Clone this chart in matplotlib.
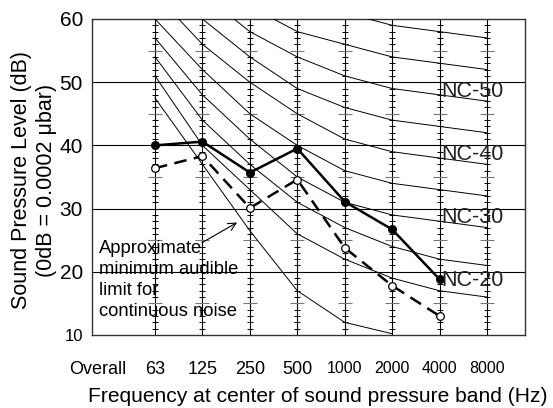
import matplotlib
matplotlib.use("Agg")
import matplotlib.pyplot as plt
import numpy as np

plt.rcParams["font.family"] = ["Liberation Sans", "DejaVu Sans"]

# ---------------- data ----------------
categories = ["Overall", "63", "125", "250", "500", "1000", "2000", "4000", "8000"]
bands = categories[1:]
solid_levels = [40.0, 40.6, 35.7, 39.5, 31.1, 26.7, 18.8]     # 63 .. 4000 Hz
dashed_levels = [36.4, 38.3, 30.1, 34.6, 23.8, 17.8, 13.0]    # 63 .. 4000 Hz
audible_limit = [47.5, 37.0, 26.5, 17.0, 12.0, 10.2]          # 63 .. 2000 Hz

nc_ratings = [20, 25, 30, 35, 40, 45, 50, 55, 60]
nc_curves = [
    [51, 40, 33, 26, 22, 19, 17, 16],
    [54, 44, 37, 31, 27, 24, 22, 21],
    [57, 48, 41, 35, 31, 29, 28, 27],
    [60, 52, 45, 40, 36, 34, 33, 32],
    [64, 56, 50, 45, 41, 39, 38, 37],
    [67, 60, 54, 49, 46, 44, 43, 42],
    [71, 64, 58, 54, 51, 49, 48, 47],
    [74, 67, 62, 58, 56, 54, 53, 52],
    [77, 71, 67, 63, 61, 59, 58, 57],
]
nc_labelled = [20, 30, 40, 50]
y_ticks = [10, 20, 30, 40, 50, 60]
grid_levels = [20, 30, 40, 50]

# ---------------- figure ----------------
fig = plt.figure(figsize=(5.53, 4.08), dpi=100)
ax = fig.add_axes([92 / 553, 1 - 335 / 408, 433 / 553, 316 / 408])
ax.set_xlim(-0.328, 8.80)
ax.set_ylim(10, 60)

xb = np.arange(1, len(bands) + 1)

for g in grid_levels:
    ax.axhline(g, color="black", lw=0.8, zorder=1)

ax.vlines(xb, 10, 60, color="black", lw=0.8, zorder=1)
minor_ticks = [v for v in range(11, 60) if v % 5 != 0]
major_ticks = [v for v in range(15, 60, 10)]
for x in xb:
    ax.plot([x] * len(minor_ticks), minor_ticks, ls="none", marker="_",
            ms=4.2, mew=0.7, color="black", zorder=2)
    ax.plot([x] * len(major_ticks), major_ticks, ls="none", marker="_",
            ms=9.5, mew=0.8, color="#777777", zorder=2)

for vals in nc_curves:
    ax.plot(xb, vals, color="black", lw=0.7, zorder=3)
ax.plot(xb[:len(audible_limit)], audible_limit, color="black", lw=0.7, zorder=3)

ax.plot(xb[:len(dashed_levels)], dashed_levels, color="black", lw=1.8,
        ls=(0, (5, 3)), marker="o", ms=5.5, mfc="white", mec="black", mew=0.9, zorder=5)
ax.plot(xb[:len(solid_levels)], solid_levels, color="black", lw=1.8,
        marker="o", ms=5.5, mfc="black", mec="black", zorder=6)

for lvl in nc_labelled:
    ax.text(7.04, lvl + 0.25, f"NC-{lvl}", ha="left", va="top", fontsize=15.5,
            color="#222222", zorder=7)

ax.text(-0.18, 25.1, "Approximate\nminimum audible\nlimit for\ncontinuous noise",
        ha="left", va="top", fontsize=13.2, linespacing=1.33, zorder=7)
ax.annotate("", xy=(2.73, 27.8), xytext=(1.99, 24.6),
            arrowprops=dict(arrowstyle="->", lw=0.8, color="black",
                            shrinkA=0, shrinkB=0, mutation_scale=14), zorder=7)

# axes / ticks
for s in ax.spines.values():
    s.set_color("#333333")
    s.set_linewidth(1.0)

ax.set_yticks(y_ticks)
ax.set_yticklabels([str(v) for v in y_ticks])
ax.tick_params(axis="y", length=0, pad=6.5, labelsize=15)
ax.get_yticklabels()[0].set_fontsize(12)

xpos = np.arange(len(categories), dtype=float)
xpos[0] = -0.2
ax.set_xticks(xpos)
ax.set_xticklabels(categories)
ax.tick_params(axis="x", length=0, pad=19, labelsize=13)
for lab in ax.get_xticklabels():
    if len(lab.get_text()) == 4:
        lab.set_fontsize(11.5)

fig.text(318 / 553, 1 - 402 / 408, "Frequency at center of sound pressure band (Hz)",
         ha="center", va="baseline", fontsize=15.1)
fig.text(34 / 553, 1 - 180 / 408, "Sound Pressure Level (dB)\n(0dB = 0.0002 \u03bcbar)",
         rotation=90, ha="center", va="center", multialignment="center",
         fontsize=15.5, linespacing=1.2)

fig.savefig("out.png", dpi=100)
